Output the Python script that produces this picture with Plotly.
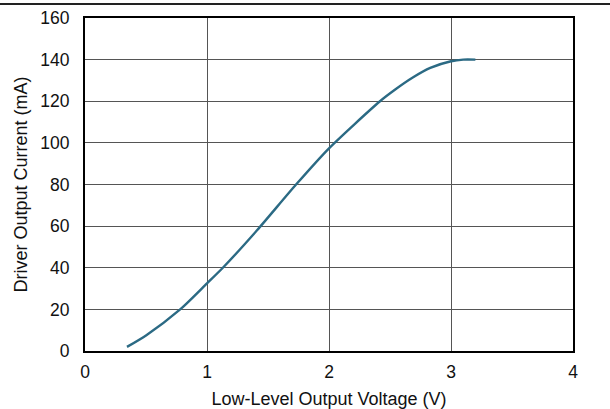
import plotly.graph_objects as go

voltage = [0.344, 0.5, 0.78, 1.0, 1.13, 1.41, 1.73, 2.0, 2.418, 2.54, 2.69, 2.83, 3.0, 3.1, 3.2]
current = [2, 7.5, 20, 32.5, 40, 58, 80, 97.4, 120, 125.5, 131.5, 136, 139.2, 140, 140]
x_ticks = [0, 1, 2, 3, 4]
y_ticks = [0, 20, 40, 60, 80, 100, 120, 140, 160]

fig = go.Figure()
fig.add_trace(go.Scatter(x=voltage, y=current, mode="lines",
                         line=dict(color="#2B6A84", width=2.4, shape="spline", smoothing=0.7),
                         showlegend=False, hoverinfo="skip"))

tickfont = dict(family="Liberation Sans, Arial, sans-serif", size=17.5, color="#111111")
titlefont = dict(family="Liberation Sans, Arial, sans-serif", size=18, color="#111111")
fig.update_layout(
    width=610, height=409,
    margin=dict(l=85, r=37, t=18, b=58),
    paper_bgcolor="white", plot_bgcolor="white",
    font=tickfont,
    xaxis=dict(range=[0, 4], tickvals=x_ticks, showgrid=True, gridcolor="#555555", gridwidth=1,
               showline=True, linecolor="black", linewidth=2, mirror=True, zeroline=False,
               ticks="", automargin=False, ticklabelstandoff=4,
               title=dict(text="Low-Level Output Voltage (V)", standoff=12, font=titlefont),
               tickfont=tickfont),
    yaxis=dict(range=[0, 160], tickvals=y_ticks, showgrid=True, gridcolor="#555555", gridwidth=1,
               showline=True, linecolor="black", linewidth=2, mirror=True, zeroline=False,
               ticks="", automargin=False, ticklabelstandoff=10,
               title=dict(text="Driver Output Current (mA)", standoff=8, font=titlefont),
               tickfont=tickfont),
    shapes=[dict(type="line", xref="paper", yref="paper", x0=-0.2, x1=1.1, y0=1.042, y1=1.042,
                 line=dict(color="#222222", width=2), layer="above")],
)
fig.write_html("out.html", config={"displayModeBar": False},
               post_script="document.body.style.margin='0px';")
